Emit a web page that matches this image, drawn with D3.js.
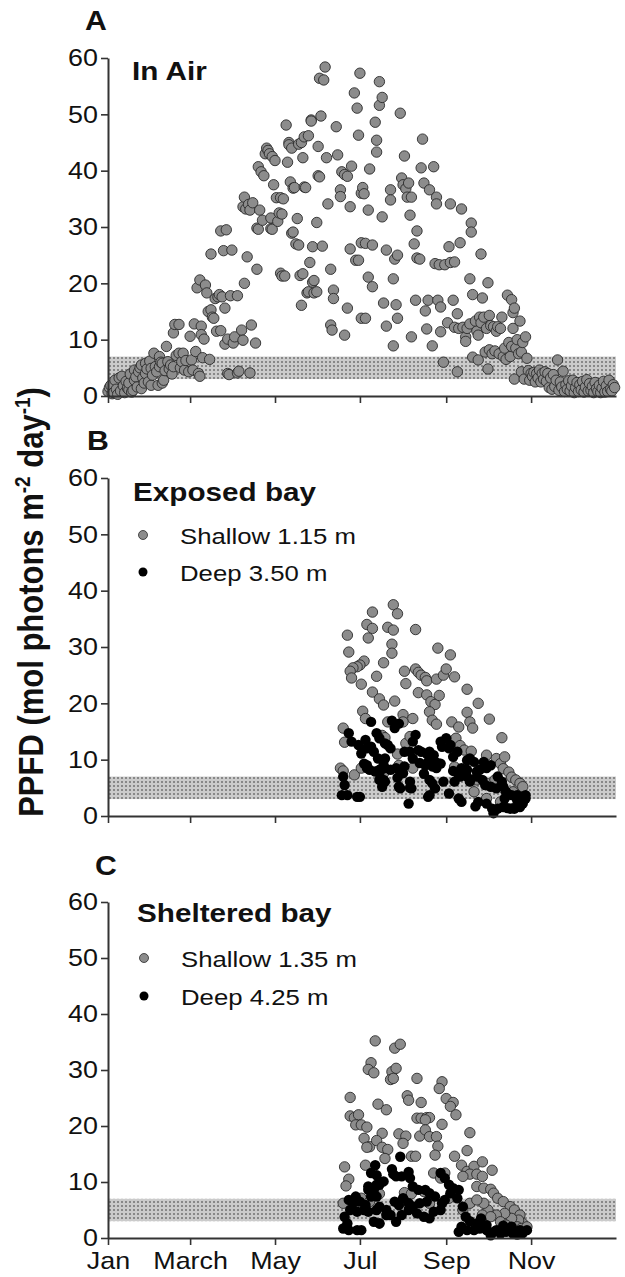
<!DOCTYPE html>
<html>
<head>
<meta charset="utf-8">
<script src="https://cdn.jsdelivr.net/npm/d3@7"></script>
<style>
  body { margin: 0; background: #fff; }
  svg text { font-family: "Liberation Sans", Arial, sans-serif; fill: #111; }
</style>
</head>
<body>
<svg id="chart" width="625" height="1277"></svg>
<script>
// x axis: day of year, ticks every two months
const monthStarts = [0, 59, 120, 181, 243, 304];
const monthLabels = ["Jan", "March", "May", "Jul", "Sep", "Nov"];
const yTicks = [0, 10, 20, 30, 40, 50, 60];
const bandRange = [3, 7];

// [day of year, PPFD]
const airData = [[0,0.8],[1,1.5],[2,1.9],[3,0.4],[4,0.6],[5,2.8],[6,1.2],[7,0.3],[8,3.2],[9,0.9],[10,3.5],[11,1.8],[12,0.6],[13,2.6],[14,1.4],[15,1.1],[15,2.3],[16,3.9],[17,0.7],[18,1.0],[19,2.8],[19,4.6],[20,3.4],[21,1.6],[22,4.3],[23,5.0],[24,1.3],[24,5.5],[25,3.2],[26,2.3],[27,5.8],[27,4.0],[28,4.8],[29,2.5],[30,6.2],[31,1.9],[31,4.9],[32,3.7],[33,7.6],[34,5.2],[35,4.3],[36,1.9],[37,7.0],[37,5.2],[38,6.0],[39,5.8],[39,2.3],[40,2.8],[41,4.5],[42,8.8],[43,6.1],[44,4.8],[45,5.5],[46,3.9],[47,5.2],[47,11.2],[48,12.7],[49,7.2],[51,12.7],[51,7.6],[52,5.0],[53,6.1],[54,7.6],[55,4.6],[56,6.3],[58,4.3],[59,10.6],[60,6.4],[61,4.6],[62,12.8],[63,7.9],[64,19.2],[65,4.0],[66,3.5],[66,20.6],[67,12.4],[67,10.9],[68,6.8],[69,10.1],[70,19.7],[71,18.3],[72,15.0],[73,6.5],[74,15.3],[74,25.2],[75,14.0],[76,13.8],[77,17.3],[78,11.5],[79,17.6],[80,18.0],[81,29.3],[81,11.6],[82,17.6],[83,25.8],[84,9.2],[84,15.6],[85,29.5],[86,10.1],[86,4.0],[87,3.8],[88,17.8],[89,25.9],[90,9.4],[91,10.5],[93,17.8],[93,4.1],[94,4.4],[96,11.7],[97,9.9],[97,33.6],[98,35.3],[98,20.0],[99,33.2],[100,24.7],[101,34.0],[102,4.1],[102,33.0],[103,12.6],[104,34.3],[106,9.4],[107,22.5],[107,29.8],[108,40.7],[108,29.6],[109,33.0],[110,39.8],[111,31.2],[112,39.1],[113,43.0],[114,44.0],[115,43.6],[116,43.0],[117,31.6],[117,29.7],[118,42.5],[118,29.6],[119,37.5],[120,41.8],[121,35.2],[122,31.0],[123,32.5],[124,35.2],[124,21.8],[125,32.3],[125,21.3],[126,35.0],[127,21.3],[128,48.1],[129,41.5],[130,45.0],[130,44.6],[131,38.0],[132,44.0],[132,28.9],[133,29.1],[133,36.9],[134,37.0],[135,27.0],[136,31.5],[137,26.8],[137,44.7],[138,21.4],[139,16.1],[139,45.0],[140,21.7],[140,42.3],[141,46.0],[141,37.1],[142,37.0],[143,18.3],[144,46.2],[144,18.5],[145,23.7],[146,49.0],[146,48.8],[147,20.2],[147,26.5],[148,18.3],[148,20.5],[150,30.8],[150,18.5],[151,39.1],[151,44.3],[152,56.4],[152,38.9],[153,49.7],[154,26.6],[155,56.1],[156,58.4],[157,42.3],[158,34.1],[160,22.5],[160,12.6],[161,11.7],[162,18.8],[162,17.3],[164,47.8],[165,42.8],[167,36.6],[167,35.4],[168,39.8],[170,39.3],[170,10.8],[172,39.0],[172,15.6],[174,33.6],[174,26.1],[175,40.8],[177,53.8],[178,24.1],[179,51.1],[180,46.3],[180,24.1],[181,57.3],[182,36.0],[182,27.2],[182,13.8],[183,37.0],[184,35.9],[185,27.1],[185,13.8],[187,33.0],[187,21.1],[188,40.3],[190,26.8],[190,19.4],[192,48.6],[193,45.4],[193,43.3],[195,55.8],[195,51.6],[197,53.0],[197,31.8],[198,16.5],[200,25.9],[200,12.4],[203,36.6],[203,34.8],[205,20.8],[205,8.9],[206,24.3],[207,16.2],[208,25.0],[208,13.8],[210,50.2],[211,38.7],[212,37.5],[213,42.6],[214,36.8],[215,35.3],[216,37.8],[217,32.1],[218,35.3],[218,10.5],[220,27.0],[221,17.0],[222,29.3],[222,24.5],[224,24.3],[225,40.5],[226,45.6],[227,37.8],[228,15.1],[229,11.9],[230,17.0],[231,36.6],[233,8.9],[234,40.7],[235,23.5],[236,35.3],[236,34.1],[237,17.0],[238,23.3],[239,15.8],[239,11.4],[241,6.0],[242,23.3],[244,13.0],[245,26.5],[246,34.1],[246,23.7],[248,17.0],[249,23.8],[249,12.2],[251,14.6],[251,4.3],[252,12.0],[253,27.2],[254,33.2],[255,12.2],[257,10.5],[257,9.7],[258,12.0],[260,20.8],[260,12.8],[261,30.7],[261,29.1],[262,18.0],[262,6.9],[264,13.3],[265,11.5],[266,10.8],[266,6.4],[267,14.0],[268,25.2],[268,13.0],[269,17.4],[270,14.0],[271,7.8],[272,12.0],[273,20.1],[273,4.8],[274,14.3],[274,8.2],[275,12.5],[276,7.5],[277,12.3],[278,8.0],[279,11.5],[280,12.3],[281,7.5],[282,12.0],[283,14.0],[284,7.0],[285,8.5],[286,6.5],[287,17.9],[288,9.5],[289,7.0],[290,17.1],[290,8.8],[291,14.8],[291,12.0],[292,15.6],[292,3.0],[293,8.5],[294,10.0],[295,7.5],[296,13.3],[297,4.3],[297,7.8],[298,9.5],[299,3.0],[300,10.5],[301,6.7],[302,4.5],[303,2.8],[304,4.0],[305,3.5],[306,4.2],[307,2.5],[308,4.0],[309,3.2],[310,4.6],[311,2.5],[312,4.0],[313,3.0],[314,4.3],[315,2.6],[316,4.0],[317,1.5],[318,3.2],[319,1.2],[320,3.8],[321,1.7],[322,2.8],[323,6.4],[324,1.0],[325,2.5],[326,1.6],[327,4.4],[328,0.8],[329,2.0],[330,1.2],[331,2.7],[332,0.9],[333,1.8],[334,2.8],[335,0.6],[336,1.5],[337,2.4],[338,0.8],[339,2.0],[340,1.1],[341,2.6],[342,0.7],[343,1.6],[344,2.9],[345,0.9],[346,2.2],[347,1.0],[348,1.7],[349,0.6],[350,2.4],[351,1.3],[352,0.8],[353,1.9],[354,0.6],[355,1.4],[356,2.6],[357,0.7],[358,1.8],[359,0.8],[360,2.8],[361,1.2],[362,0.9],[363,2.0],[364,1.5]];

const exposedShallow = [[205,37.5],[190,36.2],[208,35.9],[186,34.0],[190,33.3],[201,33.5],[205,33.0],[221,33.1],[172,32.1],[187,31.6],[204,30.5],[204,28.9],[173,29.1],[237,29.8],[246,28.6],[184,27.5],[181,26.8],[179,26.5],[176,26.3],[174,25.7],[175,24.5],[198,27.2],[213,25.7],[221,26.1],[223,25.5],[225,25.0],[228,24.6],[229,24.0],[193,24.8],[214,23.5],[182,23.4],[236,24.3],[241,25.0],[243,26.1],[249,24.7],[258,22.5],[190,22.0],[195,20.8],[198,19.7],[223,21.9],[229,21.5],[232,20.3],[235,19.8],[238,21.4],[206,20.4],[266,20.0],[183,18.6],[185,17.3],[212,18.0],[219,17.3],[212,16.7],[231,18.5],[233,17.0],[236,16.3],[258,18.4],[260,16.7],[247,16.7],[252,15.8],[262,15.6],[274,17.2],[283,13.9],[169,15.6],[170,13.1],[201,16.7],[197,14.3],[199,13.9],[208,11.0],[214,12.9],[217,14.1],[250,13.8],[253,12.5],[256,11.7],[261,11.5],[272,10.8],[279,10.2],[282,9.3],[284,8.4],[288,7.8],[290,6.9],[293,6.4],[296,5.8],[285,10.5],[167,8.5],[169,8.0],[177,7.3],[182,8.5],[198,7.6],[209,9.0],[219,8.5],[237,9.3],[249,8.7],[268,8.5],[265,6.4],[272,5.8],[278,6.4],[284,4.9],[291,4.3],[297,3.7],[263,4.3],[272,3.1],[282,2.5],[298,5.2]];

const exposedDeep = [[189,16.7],[204,16.9],[209,16.4],[206,15.6],[173,14.7],[175,13.2],[180,12.6],[185,13.5],[186,12.0],[189,12.3],[193,14.7],[195,13.8],[199,12.9],[201,12.6],[203,12.0],[191,11.4],[194,10.2],[198,9.0],[199,10.2],[182,11.1],[184,9.3],[186,8.5],[188,8.2],[192,7.9],[195,8.2],[198,6.4],[199,8.5],[203,8.2],[207,8.5],[211,8.2],[213,8.8],[221,14.4],[219,13.2],[213,11.4],[217,11.4],[219,10.2],[223,11.7],[225,11.4],[229,11.1],[231,11.4],[234,10.8],[230,9.6],[228,9.0],[233,8.8],[236,8.5],[239,13.2],[240,12.3],[243,13.8],[245,12.0],[246,12.6],[233,5.8],[241,6.1],[249,6.1],[253,7.0],[258,7.0],[260,6.1],[265,7.0],[269,6.4],[271,5.5],[275,5.2],[279,4.9],[284,5.2],[286,4.3],[290,3.7],[294,3.7],[297,3.4],[300,3.7],[169,7.0],[170,5.5],[168,3.7],[172,3.7],[179,3.4],[181,3.4],[195,6.4],[197,5.2],[199,6.1],[209,5.2],[210,4.9],[217,6.1],[218,4.9],[216,2.2],[231,3.7],[230,3.4],[254,2.5],[252,3.1],[264,1.7],[266,2.5],[272,2.2],[276,1.3],[277,0.5],[280,1.3],[284,1.6],[289,1.3],[292,1.3],[296,1.6],[298,2.2],[300,3.1],[294,2.8],[285,3.1],[235,9.6],[239,9.3],[258,9.9],[260,10.2],[263,9.6],[251,11.4],[248,10.5],[254,8.5],[258,8.2],[265,7.9],[267,8.2],[270,9.6],[272,8.5],[275,9.0],[280,7.0],[283,6.1],[186,9.0],[195,7.6],[208,6.8],[212,7.6],[217,5.0],[224,9.4],[227,7.5],[231,6.4],[235,4.9],[245,4.0],[248,8.0],[252,7.2],[287,1.4],[291,1.4]];

const shelteredShallow = [[192,35.2],[206,33.9],[210,34.6],[189,31.3],[187,30.1],[191,29.5],[204,29.7],[207,30.3],[203,28.3],[205,28.5],[222,28.5],[240,27.9],[238,26.7],[174,25.1],[215,25.4],[216,24.6],[194,23.9],[200,22.9],[225,24.2],[243,24.9],[248,24.2],[246,23.5],[250,22.0],[174,21.8],[177,21.5],[180,22.0],[178,20.2],[182,20.2],[186,19.8],[222,21.4],[225,21.4],[229,21.5],[231,21.5],[228,21.1],[240,20.3],[260,18.8],[197,18.7],[209,18.6],[214,18.2],[212,16.9],[184,17.8],[188,16.3],[193,17.4],[186,16.2],[224,18.2],[228,19.3],[231,18.1],[236,18.1],[237,16.4],[197,16.2],[201,15.8],[218,14.6],[221,14.6],[235,14.8],[249,14.6],[199,14.2],[258,15.6],[254,13.0],[258,11.9],[263,12.8],[269,13.6],[276,12.1],[260,11.4],[265,11.4],[269,11.0],[255,11.0],[170,12.7],[173,10.5],[171,9.3],[185,13.0],[234,11.6],[239,10.7],[242,11.6],[265,9.2],[270,8.9],[275,8.7],[277,8.0],[280,7.1],[284,6.5],[289,5.6],[292,5.0],[296,4.1],[298,2.6],[295,3.2],[290,3.5],[285,4.4],[279,4.1],[273,5.0],[270,6.2],[195,7.9],[213,8.1],[218,7.9],[227,8.3],[169,6.2],[182,7.1],[188,6.5],[215,6.2],[231,6.2],[245,7.1],[260,6.2],[265,6.8],[255,5.0],[269,4.1],[275,3.8],[282,2.9],[286,2.3],[294,2.0],[297,1.7],[301,2.0]];

const shelteredDeep = [[210,14.5],[192,13.0],[189,11.6],[193,11.2],[198,10.1],[204,12.3],[205,11.4],[207,11.0],[211,11.0],[216,11.8],[217,10.7],[187,9.2],[191,8.6],[195,9.5],[189,7.4],[193,7.4],[178,7.4],[173,6.8],[176,6.2],[181,6.5],[185,5.9],[174,5.0],[179,4.7],[184,5.0],[187,4.7],[193,5.0],[195,5.6],[200,5.0],[203,4.1],[170,3.8],[172,2.6],[169,1.7],[173,1.4],[179,1.4],[182,1.4],[191,2.9],[195,2.6],[200,4.1],[207,2.9],[211,4.1],[216,5.0],[219,9.2],[223,8.6],[228,8.6],[231,8.0],[235,7.4],[229,6.5],[224,6.2],[219,5.6],[216,6.2],[212,7.1],[209,5.9],[206,6.5],[222,4.4],[227,3.8],[231,3.5],[234,4.7],[239,5.0],[240,6.2],[242,6.8],[239,11.6],[242,10.7],[245,9.5],[248,8.9],[252,8.6],[251,7.1],[246,8.0],[255,5.6],[257,3.8],[254,2.0],[252,1.1],[258,1.4],[263,1.4],[267,1.7],[272,1.4],[277,1.1],[282,0.8],[286,1.1],[291,0.8],[296,1.4],[301,1.4],[272,2.3],[275,0.5],[279,1.4],[290,2.0],[193,9.5],[187,8.6],[195,2.6],[260,3.0],[265,2.6],[268,3.5],[284,2.2],[288,1.6],[294,0.6],[298,0.9]];

const svg = d3.select("#chart");
const SX = 1.12;          // text in the figure is a little wider than normal
const grey = "#8c8c8c";

// dotted band fill
const pat = svg.append("defs").append("pattern")
  .attr("id", "dots").attr("patternUnits", "userSpaceOnUse")
  .attr("width", 4).attr("height", 4);
pat.append("rect").attr("width", 4).attr("height", 4).attr("fill", "#cbcbcb");
pat.append("circle").attr("cx", 2).attr("cy", 2).attr("r", 0.8).attr("fill", "#333");

const x = d3.scaleLinear().domain([0, 365]).range([108, 616]);

function label(px, py, str, size, weight) {
  return svg.append("text")
    .attr("transform", `translate(${px},${py}) scale(${SX},1)`)
    .attr("font-size", size)
    .attr("font-weight", weight || "normal")
    .text(str);
}

function stretch(sel) {
  sel.each(function () {
    const t = d3.select(this);
    const tx = +t.attr("x") || 0, ty = +t.attr("y") || 0;
    t.attr("x", 0).attr("y", 0).attr("transform", `translate(${tx},${ty}) scale(${SX},1)`);
  });
}

const panels = [
  { letter: "A", lx: 85, ly: 30, title: "In Air", tx: 132, ty: 80, top: 58, bottom: 396,
    series: [{ data: airData, fill: grey }], legend: null, xLabels: false },
  { letter: "B", lx: 87, ly: 450, title: "Exposed bay", tx: 133, ty: 501, top: 478, bottom: 816,
    series: [{ data: exposedShallow, fill: grey, name: "Shallow 1.15 m" },
             { data: exposedDeep, fill: "#000", name: "Deep 3.50 m" }],
    legend: { cx: 143, y0: 535, gap: 37 }, xLabels: false },
  { letter: "C", lx: 95, ly: 875, title: "Sheltered bay", tx: 137, ty: 922, top: 902, bottom: 1238,
    series: [{ data: shelteredShallow, fill: grey, name: "Shallow 1.35 m" },
             { data: shelteredDeep, fill: "#000", name: "Deep 4.25 m" }],
    legend: { cx: 144, y0: 958, gap: 38 }, xLabels: true }
];

panels.forEach(p => {
  const y = d3.scaleLinear().domain([0, 60]).range([p.bottom, p.top]);
  const g = svg.append("g");

  // light-limit band
  g.append("rect")
    .attr("x", x(0)).attr("width", x(365) - x(0))
    .attr("y", y(bandRange[1])).attr("height", y(bandRange[0]) - y(bandRange[1]))
    .attr("fill", "url(#dots)");

  p.series.forEach(s => {
    g.append("g").selectAll("circle")
      .data(s.data)
      .join("circle")
      .attr("cx", d => x(d[0]))
      .attr("cy", d => y(d[1]))
      .attr("r", 5.2)
      .attr("fill", s.fill)
      .attr("stroke", s.fill === "#000" ? "none" : "#2a2a2a")
      .attr("stroke-width", 0.9);
  });

  // axes
  const yAxis = g.append("g")
    .attr("transform", `translate(${x(0)},0)`)
    .call(d3.axisLeft(y).tickValues(yTicks).tickSize(7).tickPadding(3).tickSizeOuter(0));
  yAxis.selectAll("text").attr("font-size", 24).attr("fill", "#111").call(stretch);

  const xAxis = g.append("g")
    .attr("transform", `translate(0,${p.bottom})`)
    .call(d3.axisBottom(x).tickValues(monthStarts)
      .tickFormat((d, i) => p.xLabels ? monthLabels[i] : "")
      .tickSize(7).tickPadding(7).tickSizeOuter(0));
  xAxis.selectAll("text").attr("font-size", 24).attr("fill", "#111").call(stretch);

  [yAxis, xAxis].forEach(a => {
    a.select(".domain").attr("stroke", "#333").attr("stroke-width", 2);
    a.selectAll(".tick line").attr("stroke", "#333").attr("stroke-width", 1.6);
  });

  label(p.lx, p.ly, p.letter, 27, "bold");
  label(p.tx, p.ty, p.title, 26.5, "bold");

  if (p.legend) {
    p.series.forEach((s, i) => {
      const cy = p.legend.y0 + i * p.legend.gap;
      svg.append("circle")
        .attr("cx", p.legend.cx).attr("cy", cy).attr("r", 4.5)
        .attr("fill", s.fill)
        .attr("stroke", s.fill === "#000" ? "none" : "#2a2a2a").attr("stroke-width", 0.8);
      label(p.legend.cx + 37, cy + 8.5, s.name, 23);
    });
  }
});

// shared y-axis title
const yt = svg.append("text")
  .attr("transform", "translate(30,602) rotate(-90) scale(1,1.15)")
  .attr("text-anchor", "middle")
  .attr("font-size", 31)
  .attr("font-weight", "bold")
  .attr("dy", "0.36em");
yt.append("tspan").text("PPFD (mol photons m");
yt.append("tspan").attr("font-size", 19).attr("dy", -11).text("-2");
yt.append("tspan").attr("dy", 11).text(" day");
yt.append("tspan").attr("font-size", 19).attr("dy", -11).text("-1");
yt.append("tspan").attr("dy", 11).text(")");
</script>
</body>
</html>
